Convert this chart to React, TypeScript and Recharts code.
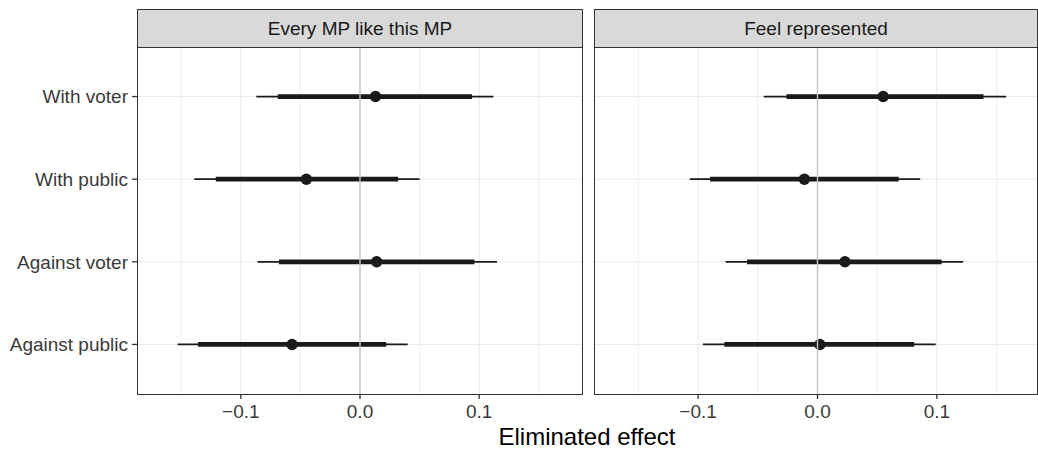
import React from 'react';
import {
  ScatterChart, Scatter, XAxis, YAxis, ErrorBar, ReferenceLine
} from 'recharts';

const rowLabels = ['With voter', 'With public', 'Against voter', 'Against public'];
const rowPos = [4, 3, 2, 1];

const panelTitles = ['Every MP like this MP', 'Feel represented'];

// panel 1: Every MP like this MP
const est1 = [0.013, -0.045, 0.014, -0.057];
const lo90_1 = [-0.069, -0.121, -0.068, -0.136];
const hi90_1 = [0.094, 0.032, 0.096, 0.022];
const lo95_1 = [-0.087, -0.139, -0.086, -0.153];
const hi95_1 = [0.112, 0.050, 0.115, 0.040];

// panel 2: Feel represented
const est2 = [0.055, -0.011, 0.023, 0.002];
const lo90_2 = [-0.026, -0.090, -0.059, -0.078];
const hi90_2 = [0.139, 0.068, 0.104, 0.081];
const lo95_2 = [-0.045, -0.107, -0.077, -0.096];
const hi95_2 = [0.158, 0.086, 0.122, 0.099];

const xTicks = [-0.1, 0, 0.1];
const xTickLabels = ['\u22120.1', '0.0', '0.1'];
const gridMinor = [-0.15, -0.05, 0.05, 0.15];

const FONT = '"Liberation Sans", Arial, Helvetica, sans-serif';
const INK = '#1a1a1a';
const AXIS_TEXT = '#3a3a3a';

const buildRows = (est: number[], lo90: number[], hi90: number[], lo95: number[], hi95: number[]) =>
  rowLabels.map((label, i) => ({
    label,
    y: rowPos[i],
    x: est[i],
    e90: [est[i] - lo90[i], hi90[i] - est[i]],
    e95: [est[i] - lo95[i], hi95[i] - est[i]],
  }));

const panels = [
  { title: panelTitles[0], rows: buildRows(est1, lo90_1, hi90_1, lo95_1, hi95_1) },
  { title: panelTitles[1], rows: buildRows(est2, lo90_2, hi90_2, lo95_2, hi95_2) },
];

const Dot = (props: any) => <circle cx={props.cx} cy={props.cy} r={5.7} fill={INK} />;

interface PanelProps {
  rows: any[];
  width: number;
  showY: boolean;
  domain: [number, number];
}

const Panel: React.FC<PanelProps> = ({ rows, width, showY, domain }) => (
  <ScatterChart width={width} height={449} margin={{ top: 47, right: 0, bottom: 0, left: 0 }}>
    <XAxis
      type="number"
      dataKey="x"
      domain={domain}
      allowDataOverflow
      ticks={xTicks}
      tickFormatter={(v: number) => xTickLabels[xTicks.indexOf(v)] ?? ''}
      height={55}
      axisLine={false}
      tickSize={5}
      tickMargin={6}
      tickLine={{ stroke: '#333333', strokeWidth: 1.3 }}
      tick={{ fill: AXIS_TEXT, fontSize: 19, fontFamily: FONT }}
    />
    <YAxis
      type="number"
      dataKey="y"
      domain={[0.4, 4.6]}
      ticks={rowPos}
      tickFormatter={(v: number) => rowLabels[rowPos.indexOf(v)] ?? ''}
      width={showY ? 137 : 0}
      hide={!showY}
      axisLine={false}
      tickSize={5}
      tickMargin={4}
      tickLine={{ stroke: '#333333', strokeWidth: 1.3 }}
      tick={{ fill: AXIS_TEXT, fontSize: 19, fontFamily: FONT }}
    />
    {gridMinor.map((v) => (
      <ReferenceLine key={`mn${v}`} x={v} stroke="#ebebeb" strokeWidth={0.8} />
    ))}
    {xTicks.map((v) => (
      <ReferenceLine key={`mj${v}`} x={v} stroke="#ebebeb" strokeWidth={1.1} />
    ))}
    {rowPos.map((p) => (
      <ReferenceLine key={`r${p}`} y={p} stroke="#ebebeb" strokeWidth={1.1} />
    ))}
    <Scatter data={rows} shape={Dot} isAnimationActive={false}>
      <ErrorBar dataKey="e95" direction="x" width={0} strokeWidth={1.8} stroke={INK} isAnimationActive={false} />
      <ErrorBar dataKey="e90" direction="x" width={0} strokeWidth={4.8} stroke={INK} isAnimationActive={false} />
    </Scatter>
    <ReferenceLine x={0} stroke="#c4c4c4" strokeWidth={1.4} zIndex={2000} />
  </ScatterChart>
);

const stripStyle = (left: number, width: number): React.CSSProperties => ({
  position: 'absolute',
  left,
  top: 9,
  width,
  height: 39,
  boxSizing: 'border-box',
  border: '1px solid #333333',
  background: '#d9d9d9',
  color: INK,
  fontFamily: FONT,
  fontSize: 19,
  display: 'flex',
  alignItems: 'center',
  justifyContent: 'center',
});

const frameStyle = (left: number, width: number): React.CSSProperties => ({
  position: 'absolute',
  left,
  top: 47,
  width,
  height: 348,
  boxSizing: 'border-box',
  border: '1px solid #333333',
  pointerEvents: 'none',
});

export default function App() {
  return (
    <div style={{ position: 'absolute', left: 0, top: 0, width: 1038, height: 449, overflow: 'hidden', background: '#fff' }}>
      <div style={{ position: 'absolute', left: 0, top: 0 }}>
        <Panel rows={panels[0].rows} width={583} showY domain={[-0.1871, 0.1871]} />
      </div>
      <div style={{ position: 'absolute', left: 594, top: 0 }}>
        <Panel rows={panels[1].rows} width={444} showY={false} domain={[-0.1872, 0.1847]} />
      </div>
      <div style={frameStyle(137, 446)} />
      <div style={frameStyle(594, 444)} />
      <div style={stripStyle(137, 446)}>{panels[0].title}</div>
      <div style={stripStyle(594, 444)}>{panels[1].title}</div>
      <div
        style={{
          position: 'absolute',
          left: 137,
          width: 900,
          top: 425,
          textAlign: 'center',
          fontFamily: FONT,
          fontSize: 24,
          lineHeight: '24px',
          color: '#000',
        }}
      >
        Eliminated effect
      </div>
    </div>
  );
}
